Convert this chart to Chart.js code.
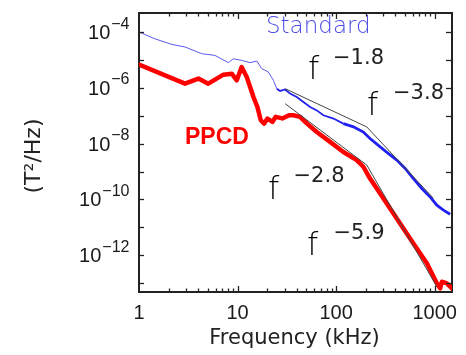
<!DOCTYPE html>
<html>
<head>
<meta charset="utf-8">
<script src="https://cdn.jsdelivr.net/npm/chart.js@4"></script>
<style>
html,body{margin:0;padding:0;background:#fff;}
#wrap{width:466px;height:355px;}
</style>
</head>
<body>
<div id="wrap"><canvas id="c" width="466" height="355"></canvas></div>
<script>
// ---- data ----
const stdFreq = [1, 1.45, 2.15, 2.93, 4.33, 5.9, 8.07, 9.06, 11.0, 13.4, 15.7, 17.6, 20.5, 23.1, 25.0, 27.0, 30.4, 34.1, 39.9, 46.6, 54.5, 63.7, 74.3, 94.0, 118.6, 150, 189, 221, 280, 340, 413, 502, 609, 741, 900, 1052, 1228, 1436];
const stdPower = [1.0e-4, 5.7e-5, 3.6e-5, 2.9e-5, 1.67e-5, 1.45e-5, 8.0e-6, 1.1e-5, 9.6e-6, 8.0e-6, 9.1e-6, 4.9e-6, 3.7e-6, 1.86e-6, 9.3e-7, 7.7e-7, 8.7e-7, 6.2e-7, 4.7e-7, 3.1e-7, 2.05e-7, 1.55e-7, 1.04e-7, 7.9e-8, 5.2e-8, 4.0e-8, 2.6e-8, 1.52e-8, 7.6e-9, 4.4e-9, 2.56e-9, 1.29e-9, 5.6e-10, 2.46e-10, 1.23e-10, 6.2e-11, 4.1e-11, 2.95e-11];

const ppcdFreq = [1, 2.93, 4.0, 5.05, 7.18, 8.73, 9.82, 11.0, 12.4, 14.5, 15.9, 17.2, 18.6, 20.1, 22.6, 24.4, 28.5, 33.3, 36.9, 43.1, 50.4, 63.7, 86.9, 118.6, 162, 189, 221, 280, 327, 446, 609, 833, 1052, 1137, 1183, 1330, 1496];
const ppcdPower = [6.8e-6, 1.41e-6, 2.14e-6, 1.41e-6, 2.96e-6, 3.2e-6, 1.86e-6, 5.5e-6, 2.45e-6, 4.7e-7, 2.05e-7, 6.9e-8, 5.2e-8, 7.9e-8, 6.0e-8, 9.1e-8, 8.0e-8, 1.04e-7, 1.04e-7, 9.1e-8, 5.3e-8, 2.6e-8, 1.15e-8, 5.0e-9, 2.55e-9, 1.48e-9, 5.6e-10, 1.63e-10, 7.1e-11, 1.37e-11, 2.65e-12, 5.1e-13, 9.8e-14, 6.5e-14, 1.12e-13, 9.8e-14, 6.5e-14];

// power-law fit segments
const fitStdLowFreq = [30.4, 205];   const fitStdLowPower = [9.3e-7, 3.96e-8];   // f^-1.8
const fitStdHighFreq = [205, 972];   const fitStdHighPower = [3.96e-8, 1.1e-10]; // f^-3.8
const fitPpcdLowFreq = [30.4, 205];  const fitPpcdLowPower = [2.7e-7, 1.7e-9];   // f^-2.8
const fitPpcdHighFreq = [205, 1052]; const fitPpcdHighPower = [1.7e-9, 7.4e-14]; // f^-5.9

const xTickValues = [1, 10, 100, 1000];
const xTickLabels = ['1', '10', '100', '1000'];
const yTickExponents = [-4, -6, -8, -10, -12];

const seriesNames = ['Standard', 'PPCD'];
const fitExponents = ['\u22121.8', '\u22123.8', '\u22122.8', '\u22125.9'];

// ---- helpers ----
const pts = (xs, ys) => xs.map((v, i) => ({x: v, y: ys[i]}));
const fitStyle = {borderColor: '#444', borderWidth: 1, pointRadius: 0, order: 0, fill: false};
const LIGHT = '200 ';

const ctx = document.getElementById('c').getContext('2d');

const decor = {
  id: 'decor',
  afterDraw(chart) {
    const {ctx, chartArea: a, scales: {x, y}} = chart;
    ctx.save();
    // tick marks (inward)
    ctx.strokeStyle = '#222';
    ctx.lineWidth = 1.3;
    const line = (x1, y1, x2, y2) => { ctx.beginPath(); ctx.moveTo(x1, y1); ctx.lineTo(x2, y2); ctx.stroke(); };
    for (let d = 0; d <= 3; d++) {
      for (let m = 1; m <= 9; m++) {
        const v = m * Math.pow(10, d);
        if (v <= x.min || v >= x.max) continue;
        const px = Math.round(x.getPixelForValue(v)) + 0.5;
        const L = m === 1 ? 6 : 3.5;
        line(px, a.bottom, px, a.bottom - L);
        line(px, a.top, px, a.top + L);
      }
    }
    for (let e = -13; e <= -4; e++) {
      const py = Math.round(y.getPixelForValue(Math.pow(10, e))) + 0.5;
      line(a.left, py, a.left + 5, py);
      line(a.right, py, a.right - 6, py);
    }
    // x tick labels
    ctx.fillStyle = '#1a1a1a';
    ctx.font = '20px "Liberation Sans", Arial, sans-serif';
    ctx.textAlign = 'center';
    ctx.textBaseline = 'alphabetic';
    xTickValues.forEach((v, i) => {
      ctx.fillText(xTickLabels[i], x.getPixelForValue(v), a.bottom + 26.5);
    });
    // y tick labels with superscript exponents
    yTickExponents.forEach(e => {
      const py = y.getPixelForValue(Math.pow(10, e));
      ctx.textAlign = 'right';
      ctx.font = '16px "Liberation Sans", Arial, sans-serif';
      const sup = '\u2212' + Math.abs(e);
      const supRight = a.left - 9.5;
      ctx.fillText(sup, supRight, py - 3.5);
      const w = ctx.measureText(sup).width;
      ctx.font = '20px "Liberation Sans", Arial, sans-serif';
      ctx.fillText('10', supRight - w - 1, py + 7);
    });
    // axis titles
    ctx.fillStyle = '#222';
    ctx.font = '21px "DejaVu Sans", sans-serif';
    ctx.textAlign = 'center';
    ctx.fillText('Frequency (kHz)', (a.left + a.right) / 2 - 1, a.bottom + 52);
    ctx.save();
    ctx.translate(40, 156);
    ctx.rotate(-Math.PI / 2);
    ctx.font = '22px "DejaVu Sans", sans-serif';
    ctx.fillText('(T\u00b2/Hz)', 0, 0);
    ctx.restore();
    // series labels
    ctx.textAlign = 'left';
    ctx.fillStyle = '#4a4ae6';
    ctx.font = LIGHT + '23px "DejaVu Sans", sans-serif';
    ctx.fillText(seriesNames[0], 266, 33);
    ctx.fillStyle = '#ff0000';
    ctx.font = 'bold 23px "Liberation Sans", Arial, sans-serif';
    ctx.fillText(seriesNames[1], 185, 144);
    // power-law labels
    const fl = [[308, 79, 333, 63.5], [367, 115, 393, 98.5], [268, 199, 293.5, 182], [307, 255, 333.5, 238.5]];
    fl.forEach((p, i) => {
      ctx.fillStyle = '#000';
      ctx.font = LIGHT + '32px "DejaVu Sans", sans-serif';
      ctx.fillText('f', p[0], p[1]);
      ctx.fillStyle = '#222';
      ctx.font = '21px "DejaVu Sans", sans-serif';
      ctx.fillText(fitExponents[i], p[2], p[3]);
    });
    ctx.restore();
  }
};

const logAxis = (pos, min, max) => ({
  type: 'logarithmic', position: pos, min: min, max: max,
  ticks: {display: false},
  grid: {display: false, drawTicks: false},
  border: {display: true, width: 2, color: '#222'}
});

new Chart(ctx, {
  type: 'line',
  data: {
    datasets: [
      Object.assign({data: pts(fitStdLowFreq, fitStdLowPower)}, fitStyle),
      Object.assign({data: pts(fitStdHighFreq, fitStdHighPower)}, fitStyle),
      Object.assign({data: pts(fitPpcdLowFreq, fitPpcdLowPower)}, fitStyle),
      Object.assign({data: pts(fitPpcdHighFreq, fitPpcdHighPower)}, fitStyle),
      {
        label: seriesNames[0], data: pts(stdFreq, stdPower), order: 2,
        borderColor: '#2b2bf2', pointRadius: 0, borderWidth: 1, fill: false,
        segment: {
          borderWidth: c => c.p0.parsed.x >= 100 ? 2.8 : (c.p0.parsed.x >= 25 ? 1.8 : 1),
          borderColor: c => c.p0.parsed.x >= 25 ? '#2020f0' : '#5a5aec'
        }
      },
      {
        label: seriesNames[1], data: pts(ppcdFreq, ppcdPower), order: 1,
        borderColor: '#ff0000', pointRadius: 0, borderWidth: 4.5, fill: false,
        borderJoinStyle: 'round', borderCapStyle: 'round'
      }
    ]
  },
  options: {
    responsive: false,
    animation: false,
    layout: {padding: {left: 139, top: 13, right: 14, bottom: 63}},
    plugins: {legend: {display: false}, tooltip: {enabled: false}},
    scales: {
      x: logAxis('bottom', 1, 1500),
      x2: logAxis('top', 1, 1500),
      y: logAxis('left', 4.8e-14, 4.8e-4),
      y2: logAxis('right', 4.8e-14, 4.8e-4)
    }
  },
  plugins: [decor]
});
</script>
</body>
</html>
